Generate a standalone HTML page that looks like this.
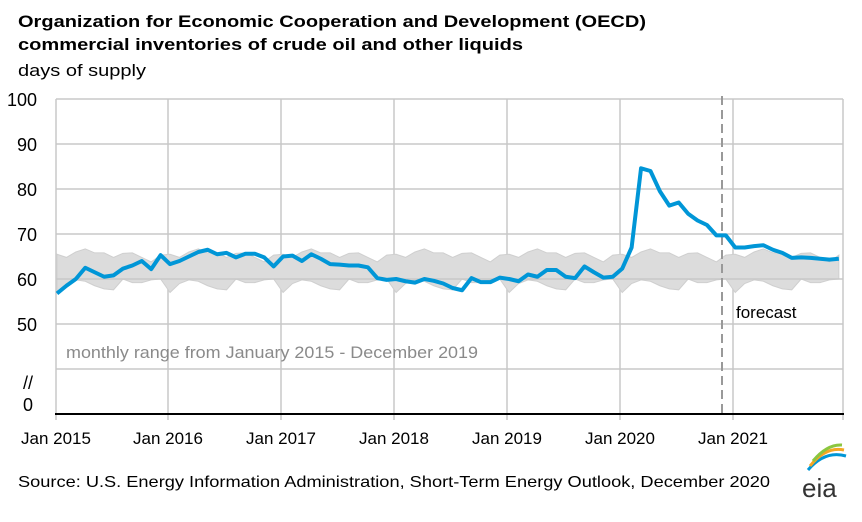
<!DOCTYPE html>
<html><head><meta charset="utf-8"><style>
body{margin:0;background:#fff;font-family:"Liberation Sans",Arial,sans-serif}
</style></head><body>
<svg width="862" height="517" viewBox="0 0 862 517" xmlns="http://www.w3.org/2000/svg" font-family="Liberation Sans, Arial, sans-serif">
<text x="18" y="27" font-size="17" font-weight="bold" fill="#000" textLength="628" lengthAdjust="spacingAndGlyphs">Organization for Economic Cooperation and Development (OECD)</text>
<text x="18" y="50" font-size="17" font-weight="bold" fill="#000" textLength="505" lengthAdjust="spacingAndGlyphs">commercial  inventories of crude oil and other liquids</text>
<text x="18" y="76" font-size="17" fill="#000" textLength="128" lengthAdjust="spacingAndGlyphs">days of supply</text>
<g id="grid" stroke="#c8c8c8" stroke-width="1.5"></g>
<g id="band"></g>
<line x1="722" y1="96" x2="722" y2="413" stroke="#999" stroke-width="2" stroke-dasharray="9,5"/>
<g id="series"></g>
<line x1="55" y1="414" x2="844" y2="414" stroke="#000" stroke-width="2"/>
<g font-size="18" fill="#000" text-anchor="end">
<text x="37" y="106">100</text><text x="37" y="151">90</text><text x="37" y="196">80</text><text x="37" y="241">70</text><text x="37" y="286">60</text><text x="37" y="331">50</text>
<text x="33" y="389">//</text><text x="33" y="411">0</text>
</g>
<g font-size="17" fill="#000" text-anchor="middle">
<text x="56" y="444">Jan 2015</text><text x="168" y="444">Jan 2016</text><text x="281" y="444">Jan 2017</text><text x="394" y="444">Jan 2018</text><text x="507" y="444">Jan 2019</text><text x="620" y="444">Jan 2020</text><text x="733" y="444">Jan 2021</text>
</g>
<text x="66" y="358" font-size="17" fill="#8a8a8a" textLength="412" lengthAdjust="spacingAndGlyphs">monthly range from January 2015 - December 2019</text>
<text x="736" y="318" font-size="17" fill="#000">forecast</text>
<text x="18" y="487" font-size="16" fill="#000" textLength="752" lengthAdjust="spacingAndGlyphs">Source: U.S. Energy Information Administration, Short-Term Energy Outlook, December 2020</text>
<g>
<path d="M808 470 Q825 450 846 456" stroke="#0096d6" stroke-width="3" fill="none"/>
<path d="M810 466 Q826 446 844 450" stroke="#f5a623" stroke-width="3" fill="none"/>
<path d="M813 461 Q827 444 842 445" stroke="#8cc63f" stroke-width="3" fill="none"/>
<text x="802" y="497" font-size="26" fill="#333">eia</text>
</g>
</svg>
<script>
(function(){
const ns="http://www.w3.org/2000/svg";
const X=m=>57+m*9.42, Y=v=>279-(v-60)*4.5;
const g=document.getElementById('grid');
[99,144,189,234,324,369].forEach(y=>{const l=document.createElementNS(ns,'line');l.setAttribute('x1',56);l.setAttribute('x2',843);l.setAttribute('y1',y);l.setAttribute('y2',y);g.appendChild(l);});
[56,168,281,394,507,620,733,843].forEach(x=>{const l=document.createElementNS(ns,'line');l.setAttribute('x1',x);l.setAttribute('x2',x);l.setAttribute('y1',99);l.setAttribute('y2',420);g.appendChild(l);});
const gl=document.createElementNS(ns,'line');gl.setAttribute('x1',56);gl.setAttribute('x2',843);gl.setAttribute('y1',279);gl.setAttribute('y2',279);gl.setAttribute('stroke','#c8c8c8');gl.setAttribute('stroke-width','1.5');
const up=[65.5,64.8,66,66.7,65.8,65.8,64.8,65.7,65.8,64.8,63.8,65.3];
const lo=[57,59,59.8,59.5,58.5,57.8,57.6,60,59.2,59.2,59.8,60];
let tp=[],bt=[];
for(let m=0;m<84;m++){tp.push(X(m)+','+Y(up[m%12]));bt.unshift(X(m)+','+Y(lo[m%12]));}
const band=document.createElementNS(ns,'polygon');band.setAttribute('points',tp.concat(bt).join(' '));band.setAttribute('fill','#dcdcdc');band.setAttribute('stroke','#cfcfcf');
document.getElementById('band').appendChild(band);
document.getElementById('band').appendChild(gl);
const d=[56.8,58.5,60,62.5,61.5,60.5,60.8,62.3,63,64,62.2,65.3,
63.3,64,65,66,66.5,65.5,65.8,64.8,65.6,65.6,64.8,62.8,
65,65.2,64,65.5,64.5,63.3,63.2,63,63,62.6,60.2,59.8,
60,59.5,59.2,60,59.6,59,58,57.5,60.2,59.3,59.3,60.3,
60,59.5,61,60.5,62,62,60.5,60.2,62.8,61.5,60.3,60.5,
62.3,67,84.6,84,79.5,76.3,77,74.5,73,72,69.7,69.7,
67,67,67.3,67.5,66.5,65.8,64.7,64.8,64.7,64.5,64.3,64.5];
const p=document.createElementNS(ns,'polyline');p.setAttribute('points',d.map((v,i)=>X(i)+','+Y(v)).join(' '));
p.setAttribute('fill','none');p.setAttribute('stroke','#0096d7');p.setAttribute('stroke-width','4');p.setAttribute('stroke-linejoin','round');
document.getElementById('series').appendChild(p);
})();
</script>
</body></html>
